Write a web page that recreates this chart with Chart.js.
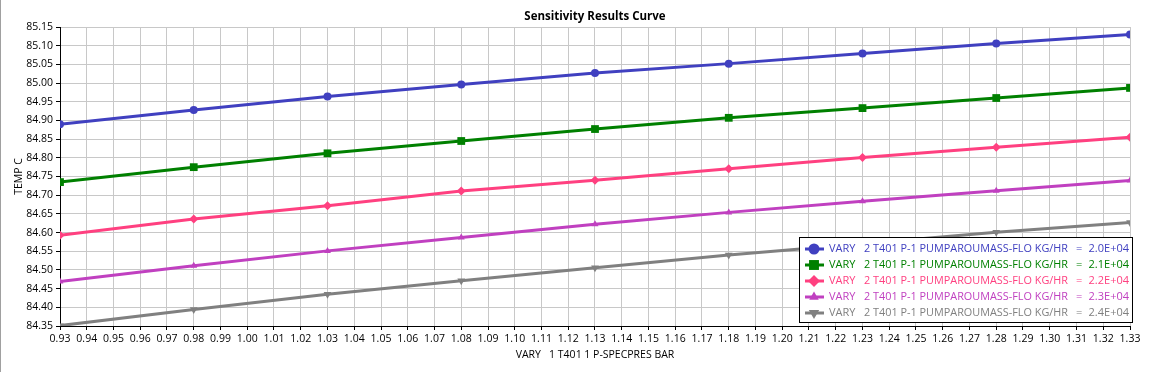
<!DOCTYPE html>
<html>
<head>
<meta charset="utf-8">
<title>Sensitivity Results Curve</title>
<script src="https://cdn.jsdelivr.net/npm/chart.js@4.4.1/dist/chart.umd.min.js"></script>
<style>
  body { margin: 0; background: #fff; }
  #wrap { width: 1150px; height: 372px; }
</style>
</head>
<body>
<div id="wrap"><canvas id="sensChart" width="1150" height="372"></canvas></div>
<script>
// VARY 1: pump-around pressure (bar)
const pressures = [0.93, 0.98, 1.03, 1.08, 1.13, 1.18, 1.23, 1.28, 1.33];

// TEMP C for each pump-around mass flow
const temp20 = [84.890, 84.928, 84.964, 84.996, 85.027, 85.052, 85.079, 85.106, 85.130];
const temp21 = [84.735, 84.775, 84.812, 84.845, 84.877, 84.907, 84.933, 84.960, 84.987];
const temp22 = [84.593, 84.636, 84.672, 84.711, 84.740, 84.771, 84.801, 84.828, 84.855];
const temp23 = [84.469, 84.511, 84.551, 84.587, 84.622, 84.654, 84.684, 84.712, 84.739];
const temp24 = [84.351, 84.394, 84.435, 84.471, 84.506, 84.540, 84.570, 84.601, 84.627];

const flowValues = ['2.0E+04', '2.1E+04', '2.2E+04', '2.3E+04', '2.4E+04'];

const xTicks = [0.93, 0.94, 0.95, 0.96, 0.97, 0.98, 0.99, 1.00, 1.01, 1.02, 1.03, 1.04, 1.05, 1.06,
                1.07, 1.08, 1.09, 1.10, 1.11, 1.12, 1.13, 1.14, 1.15, 1.16, 1.17, 1.18, 1.19, 1.20,
                1.21, 1.22, 1.23, 1.24, 1.25, 1.26, 1.27, 1.28, 1.29, 1.30, 1.31, 1.32, 1.33];
const yTicks = [84.35, 84.40, 84.45, 84.50, 84.55, 84.60, 84.65, 84.70, 84.75, 84.80, 84.85,
                84.90, 84.95, 85.00, 85.05, 85.10, 85.15];

const chartTitle = 'Sensitivity Results Curve';
const xTitle = 'VARY   1 T401 1 P-SPECPRES BAR';
const yTitle = 'TEMP C';
const varyText = 'VARY';
const varyName = '2 T401 P-1 PUMPAROUMASS-FLO KG/HR';

const FONT = "'Segoe UI', 'Open Sans', 'Noto Sans', sans-serif";
const tickFont = { family: FONT, size: 10.5 };

const styles = [
    { color: '#4040c0', point: 'circle', radius: 4, rot: 0 },
    { color: '#008000', point: 'rect', radius: 5.5, rot: 0 },
    { color: '#ff4080', point: 'rectRot', radius: 4.5, rot: 0 },
    { color: '#c040c0', point: 'triangle', radius: 4, rot: 0 },
    { color: '#808080', point: 'triangle', radius: 4.5, rot: 180 }
];
const series = [temp20, temp21, temp22, temp23, temp24];

const datasets = series.map((temps, i) => ({
    label: `${varyText}  ${varyName}  =  ${flowValues[i]}`,
    data: pressures.map((p, j) => ({ x: p, y: temps[j] })),
    borderColor: styles[i].color,
    backgroundColor: styles[i].color,
    borderWidth: 3,
    pointStyle: styles[i].point,
    pointRadius: styles[i].radius,
    pointRotation: styles[i].rot,
    pointBorderWidth: 0,
    tension: 0
}));

// title, window edge and the boxed legend inside the plot
const decorPlugin = {
    id: 'decor',
    beforeDraw(chart) {
        const ctx = chart.ctx;
        ctx.save();
        ctx.fillStyle = '#fff';
        ctx.fillRect(0, 0, chart.width, chart.height);
        ctx.restore();
    },
    afterDraw(chart) {
        const ctx = chart.ctx;
        const area = chart.chartArea;
        ctx.save();

        // left window edge
        ctx.fillStyle = '#a0a0a0';
        ctx.fillRect(0, 0, 1, chart.height);

        // title
        ctx.fillStyle = '#000';
        ctx.font = `bold 11.5px ${FONT}`;
        ctx.textAlign = 'center';
        ctx.textBaseline = 'middle';
        ctx.fillText(chartTitle, (area.left + area.right) / 2, 17);

        // legend
        const right = area.right + 3;
        const left = right - 334;
        const bottom = area.bottom - 3;
        const top = bottom - 86;
        ctx.fillStyle = '#fff';
        ctx.fillRect(left, top, right - left, bottom - top);
        ctx.strokeStyle = '#000';
        ctx.lineWidth = 1;
        ctx.strokeRect(left + 0.5, top + 0.5, right - left - 1, bottom - top - 1);

        ctx.font = `11px ${FONT}`;
        ctx.textBaseline = 'middle';
        chart.data.datasets.forEach((ds, i) => {
            const y = top + 12 + i * 16;
            const st = styles[i];
            ctx.strokeStyle = st.color;
            ctx.lineWidth = 3;
            ctx.beginPath();
            ctx.moveTo(left + 6, y);
            ctx.lineTo(left + 25, y);
            ctx.stroke();
            ctx.fillStyle = st.color;
            Chart.helpers.drawPoint(ctx, {
                pointStyle: st.point, radius: st.radius + 1.5, rotation: st.rot, borderWidth: 0
            }, left + 15, y);

            ctx.fillStyle = st.color;
            ctx.textAlign = 'left';
            ctx.fillText(varyText, left + 30, y);
            ctx.fillText(varyName, left + 65, y, 204);
            ctx.fillText('=', left + 277, y);
            ctx.textAlign = 'right';
            ctx.fillText(flowValues[i], right - 4, y);
        });
        ctx.restore();
    }
};

new Chart(document.getElementById('sensChart'), {
    type: 'line',
    data: { datasets },
    options: {
        responsive: false,
        animation: false,
        layout: { padding: { top: 27, right: 20, left: 0, bottom: 0 } },
        plugins: {
            legend: { display: false },
            title: { display: false },
            tooltip: { enabled: false }
        },
        scales: {
            x: {
                type: 'linear',
                min: 0.93,
                max: 1.33,
                afterBuildTicks: scale => { scale.ticks = xTicks.map(v => ({ value: v })); },
                afterFit: scale => { scale.height = 46; },
                ticks: {
                    autoSkip: false,
                    maxRotation: 0,
                    padding: 3,
                    color: '#000',
                    font: tickFont,
                    callback: v => Number(v).toFixed(2)
                },
                grid: { color: '#c8c8c8', tickColor: '#000', tickLength: 4 },
                border: { color: '#000', width: 1 },
                title: {
                    display: true, text: xTitle, color: '#000', font: tickFont,
                    padding: { top: 0, bottom: 11 }
                }
            },
            y: {
                type: 'linear',
                min: 84.35,
                max: 85.15,
                afterBuildTicks: scale => { scale.ticks = yTicks.map(v => ({ value: v })); },
                afterFit: scale => { scale.width = 60; },
                ticks: {
                    autoSkip: false,
                    padding: 3,
                    color: '#000',
                    font: tickFont,
                    callback: v => Number(v).toFixed(2)
                },
                grid: { color: '#c8c8c8', tickColor: '#000', tickLength: 4 },
                border: { color: '#000', width: 1 },
                title: {
                    display: true, text: yTitle, color: '#000', font: tickFont,
                    padding: { top: 13, bottom: 0 }
                }
            }
        }
    },
    plugins: [decorPlugin]
});
</script>
</body>
</html>
